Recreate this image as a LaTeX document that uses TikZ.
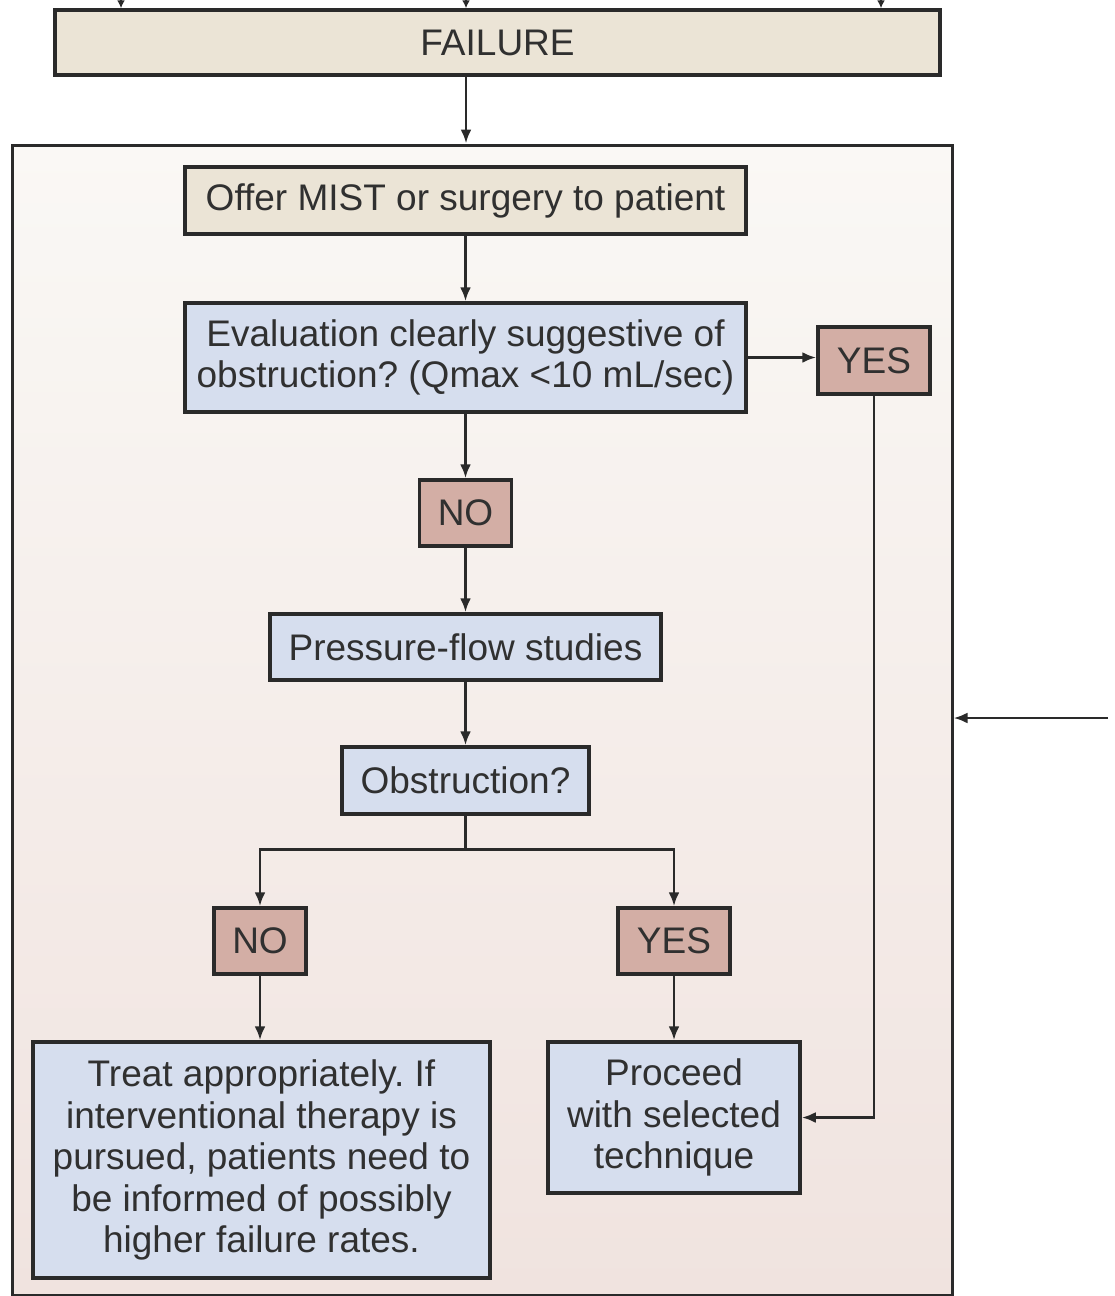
\documentclass[tikz,border=0pt]{standalone}
\usepackage{fontspec}
\setmainfont{Liberation Sans}
\usetikzlibrary{arrows.meta}
\frenchspacing

\definecolor{ink}{HTML}{2A2A2A}
\definecolor{txt}{HTML}{303030}
\definecolor{beige}{HTML}{EBE4D6}
\definecolor{bluebox}{HTML}{D6DEEE}
\definecolor{pinkbox}{HTML}{D3AEA5}
\definecolor{paneltop}{HTML}{FAF8F5}
\definecolor{panelbot}{HTML}{F0E3DF}

\tikzset{
  box/.style={draw=ink, line width=3.5pt, rectangle, inner sep=0pt,
    text=txt, align=center, font=\fontsize{37}{41.5}\selectfont},
  startbox/.style={box, fill=beige},
  querybox/.style={box, fill=bluebox},
  answerbox/.style={box, fill=pinkbox},
  conn/.style={draw=ink, line width=2.8pt},
  arr/.style={conn, -{Latex[length=14pt,width=11pt]}},
}

\begin{document}
\begin{tikzpicture}[x=1pt, y=-1pt]
\useasboundingbox (0,0) rectangle (1114,1296);

% outer panel
\node[draw=ink, line width=3pt, minimum width=940pt, minimum height=1150pt,
      top color=paneltop, bottom color=panelbot, inner sep=0pt] (panel) at (482,720) {};

% header box
\node[startbox, minimum width=885pt, minimum height=65pt] (fail) at (497.5,42.5) {FAILURE};

% incoming stubs at the very top
\coordinate (s1) at (121,0);
\coordinate (s2) at (466,0);
\coordinate (s3) at (881,0);
\foreach \s in {s1,s2,s3}
  \draw[conn, -{Latex[length=8pt,width=8pt]}] (\s) -- (\s |- fail.north);

% flow boxes
\node[startbox, minimum width=561pt, minimum height=67pt] (offer) at (465.5,200.5)
  {Offer MIST or surgery to patient};
\node[querybox, minimum width=561pt, minimum height=109pt] (eval) at (465.5,357.5)
  {Evaluation clearly suggestive of\\obstruction? (Qmax <10 mL/sec)};
\node[answerbox, minimum width=112pt, minimum height=67pt] (yes1) at (874,360.5) {YES};
\node[answerbox, minimum width=92pt, minimum height=66pt] (no1) at (465.5,513) {NO};
\node[querybox, minimum width=391pt, minimum height=66pt] (pfs) at (465.5,647)
  {Pressure-flow studies};
\node[querybox, minimum width=247pt, minimum height=67pt] (obs) at (465.5,780.5)
  {Obstruction?};
\node[answerbox, minimum width=92pt, minimum height=66pt] (no2) at (260,941) {NO};
\node[answerbox, minimum width=112pt, minimum height=66pt] (yes2) at (674,941) {YES};
\node[querybox, minimum width=457pt, minimum height=236pt] (treat) at (261.5,1160)
  {Treat appropriately. If\\interventional therapy is\\pursued, patients need to\\be informed of possibly\\higher failure rates.};
\node[querybox, minimum width=252pt, minimum height=151pt] (proc) at (674,1117.5)
  {Proceed\\with selected\\technique};

% connectors
\draw[arr] (fail.south -| s2) -- (panel.north -| s2);
\draw[arr] (offer) -- (eval);
\draw[arr] (eval.east) -- (yes1.west |- eval.east);
\draw[arr] (yes1.south) |- (proc.east);
\draw[arr] (eval) -- (no1);
\draw[arr] (no1) -- (pfs);
\draw[arr] (pfs) -- (obs);
\draw[conn] (obs.south) -- ++(0,34) coordinate (split);
\draw[arr] (split) -| (no2.north);
\draw[arr] (split) -| (yes2.north);
\draw[arr] (no2) -- (no2 |- treat.north);
\draw[arr] (yes2) -- (proc);

% arrow entering the panel from the right
\coordinate (ext) at (1108,718);
\draw[arr] (ext) -- (ext -| panel.east);
\end{tikzpicture}
\end{document}
